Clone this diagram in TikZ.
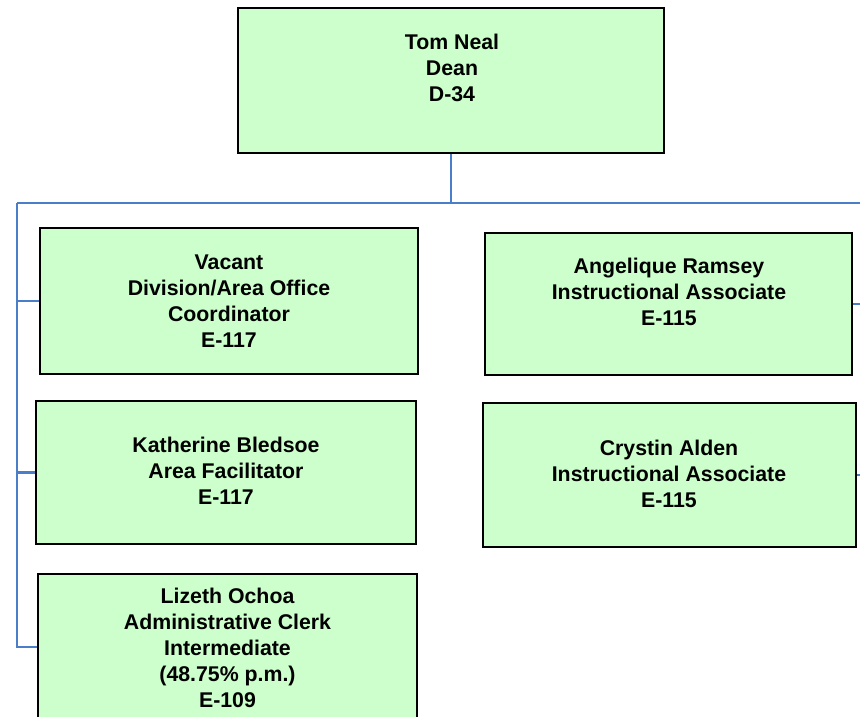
\documentclass[tikz,border=0pt]{standalone}
\usepackage{fontspec}
\setmainfont{Liberation Sans}
\definecolor{boxfill}{RGB}{204,255,204}
\definecolor{linkblue}{RGB}{74,126,200}
\begin{document}
\begin{tikzpicture}[x=1pt,y=-1pt,
  box/.style={draw=black,line width=1.4pt,fill=boxfill,rectangle,inner sep=0pt},
  txt/.style={align=center,font=\fontsize{21.3}{26}\selectfont\bfseries,inner sep=0pt},
  link/.style={draw=linkblue,line width=2.2pt}]
\useasboundingbox (0,0) rectangle (860,717);
\clip (0,0) rectangle (860,717);
% boxes
\node[box,minimum width=426pt,minimum height=145pt] (dean) at (451,80.5) {};
\node[box,minimum width=378pt,minimum height=146pt] (vacant) at (229,301) {};
\node[box,minimum width=380pt,minimum height=143pt] (bledsoe) at (226,472.5) {};
\node[box,minimum width=379pt,minimum height=146pt] (ochoa) at (227.5,647) {};
\node[box,minimum width=367pt,minimum height=142pt] (ramsey) at (668.5,304) {};
\node[box,minimum width=373pt,minimum height=144pt] (alden) at (669.5,475) {};
% texts
\node[txt] (tdean) at (452,67.5) {Tom Neal\\Dean\\D-34};
\node[txt] (tvacant) at (229,301) {Vacant\\Division/Area Office\\Coordinator\\E-117};
\node[txt] (tbledsoe) at (226,471) {Katherine Bledsoe\\Area Facilitator\\E-117};
\node[txt] (tochoa) at (227.5,648) {Lizeth Ochoa\\Administrative Clerk\\Intermediate\\(48.75\% p.m.)\\E-109};
\node[txt] (tramsey) at (669,292) {Angelique Ramsey\\Instructional Associate\\E-115};
\node[txt] (talden) at (669,474) {Crystin Alden\\Instructional Associate\\E-115};
% connectors
\coordinate (hl) at (17,203);
\coordinate (hr) at (862,203);
\draw[link] (dean.south) -- (dean.south |- hl);
\draw[link] (hl) -- (hr);
\draw[link] (hl) |- (ochoa.west);
\draw[link] (hl |- vacant.west) -- (vacant.west);
\draw[link] (hl |- bledsoe.west) -- (bledsoe.west);
\draw[link] (ramsey.east) -- (ramsey.east -| hr);
\draw[link] (alden.east) -- (alden.east -| hr);
\end{tikzpicture}
\end{document}
